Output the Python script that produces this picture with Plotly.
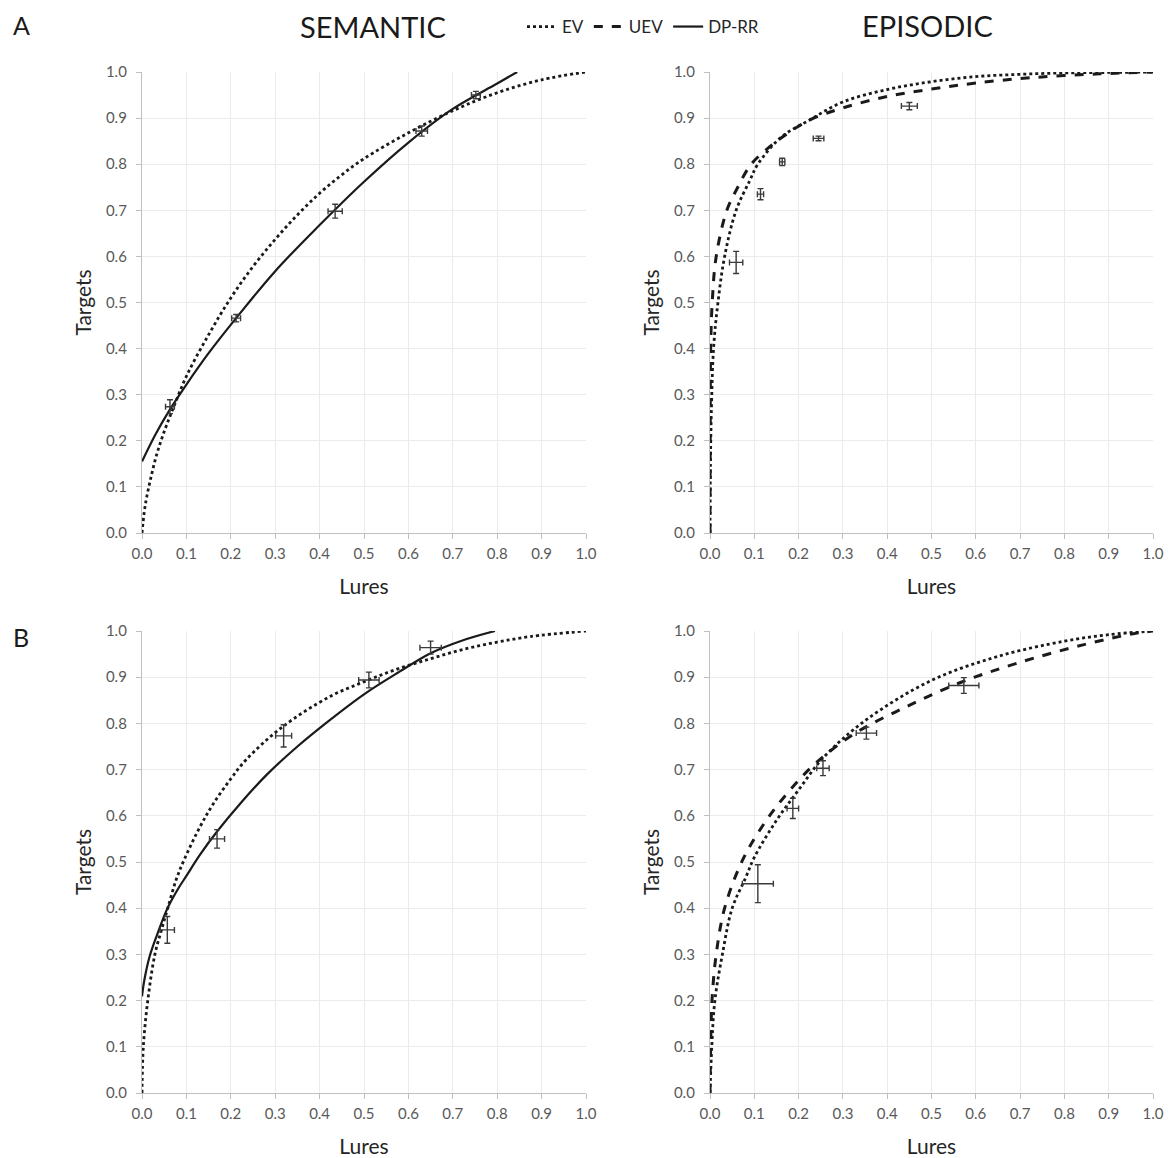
import plotly.graph_objects as go

# ---------------- data ----------------
# Panel A, SEMANTIC
a_sem_lures = [0.063, 0.212, 0.435, 0.630, 0.752]
a_sem_targets = [0.274, 0.466, 0.698, 0.872, 0.950]
a_sem_lures_err = [0.010, 0.010, 0.016, 0.013, 0.010]
a_sem_targets_err = [0.015, 0.008, 0.015, 0.011, 0.008]
a_sem_ev_x = [0, 0.005, 0.01, 0.02, 0.033, 0.05, 0.07, 0.1, 0.15, 0.2, 0.25, 0.3, 0.35, 0.4, 0.45, 0.5, 0.6, 0.7, 0.8, 0.9, 1.0]
a_sem_ev_y = [0, 0.045, 0.075, 0.12, 0.17, 0.22, 0.27, 0.34, 0.43, 0.51, 0.578, 0.637, 0.69, 0.737, 0.777, 0.812, 0.868, 0.916, 0.955, 0.983, 1.0]
a_sem_dprr_x = [0, 0.03, 0.063, 0.1, 0.15, 0.212, 0.3, 0.4, 0.5, 0.6, 0.7, 0.8, 0.845]
a_sem_dprr_y = [0.155, 0.213, 0.268, 0.322, 0.39, 0.466, 0.568, 0.668, 0.762, 0.847, 0.92, 0.975, 1.0]

# Panel A, EPISODIC
a_epi_lures = [0.059, 0.114, 0.163, 0.245, 0.450]
a_epi_targets = [0.587, 0.735, 0.805, 0.856, 0.926]
a_epi_lures_err = [0.015, 0.007, 0.006, 0.012, 0.018]
a_epi_targets_err = [0.024, 0.012, 0.008, 0.005, 0.008]
a_epi_ev_x = [0, 0.001, 0.003, 0.008, 0.018, 0.033, 0.059, 0.09, 0.108, 0.16, 0.225, 0.3, 0.4, 0.5, 0.6, 0.7, 0.8, 0.9, 1.0]
a_epi_ev_y = [0, 0.15, 0.26, 0.40, 0.50, 0.60, 0.70, 0.765, 0.80, 0.858, 0.896, 0.935, 0.962, 0.979, 0.99, 0.995, 0.998, 0.999, 1.0]
a_epi_uev_x = [0, 0.0005, 0.0015, 0.005, 0.014, 0.038, 0.06, 0.093, 0.135, 0.162, 0.225, 0.3, 0.4, 0.5, 0.6, 0.73, 0.88, 1.0]
a_epi_uev_y = [0, 0.2, 0.4, 0.5, 0.6, 0.7, 0.745, 0.80, 0.838, 0.858, 0.896, 0.922, 0.947, 0.963, 0.976, 0.988, 0.996, 1.0]

# Panel B, SEMANTIC
b_sem_lures = [0.057, 0.169, 0.319, 0.511, 0.650]
b_sem_targets = [0.353, 0.550, 0.773, 0.894, 0.964]
b_sem_lures_err = [0.016, 0.017, 0.018, 0.023, 0.024]
b_sem_targets_err = [0.029, 0.020, 0.024, 0.017, 0.014]
b_sem_ev_x = [0, 0.003, 0.013, 0.029, 0.043, 0.058, 0.077, 0.095, 0.13, 0.16, 0.2, 0.235, 0.317, 0.423, 0.5, 0.573, 0.65, 0.723, 0.8, 0.874, 1.0]
b_sem_ev_y = [0, 0.1, 0.2, 0.3, 0.35, 0.4, 0.462, 0.505, 0.575, 0.625, 0.68, 0.722, 0.793, 0.858, 0.89, 0.917, 0.94, 0.96, 0.976, 0.988, 1.0]
b_sem_dprr_x = [0, 0.005, 0.017, 0.035, 0.056, 0.08, 0.1, 0.13, 0.17, 0.22, 0.28, 0.35, 0.42, 0.5, 0.58, 0.65, 0.72, 0.795]
b_sem_dprr_y = [0.209, 0.243, 0.295, 0.345, 0.397, 0.44, 0.47, 0.515, 0.567, 0.625, 0.688, 0.75, 0.805, 0.863, 0.912, 0.952, 0.979, 1.0]

# Panel B, EPISODIC
b_epi_lures = [0.108, 0.187, 0.255, 0.353, 0.573]
b_epi_targets = [0.453, 0.616, 0.703, 0.779, 0.882]
b_epi_lures_err = [0.035, 0.013, 0.014, 0.023, 0.034]
b_epi_targets_err = [0.041, 0.022, 0.016, 0.013, 0.017]
b_epi_ev_x = [0, 0.004, 0.011, 0.028, 0.05, 0.08, 0.1, 0.15, 0.2, 0.255, 0.353, 0.5, 0.65, 0.8, 0.9, 1.0]
b_epi_ev_y = [0, 0.1, 0.2, 0.3, 0.4, 0.465, 0.51, 0.59, 0.656, 0.725, 0.808, 0.893, 0.945, 0.978, 0.992, 1.0]
b_epi_uev_x = [0, 0.0015, 0.0045, 0.014, 0.033, 0.074, 0.127, 0.18, 0.24, 0.33, 0.443, 0.564, 0.692, 0.842, 0.955, 1.0]
b_epi_uev_y = [0, 0.1, 0.2, 0.3, 0.4, 0.505, 0.59, 0.655, 0.715, 0.78, 0.836, 0.888, 0.93, 0.97, 0.994, 1.0]

tick_vals = [0.0, 0.1, 0.2, 0.3, 0.4, 0.5, 0.6, 0.7, 0.8, 0.9, 1.0]
tick_text = ["0.0", "0.1", "0.2", "0.3", "0.4", "0.5", "0.6", "0.7", "0.8", "0.9", "1.0"]

FONT = "Lato, 'Open Sans', sans-serif"
W, H = 1173, 1158

fig = go.Figure()

panels = [
    ("x", "y", (a_sem_lures, a_sem_targets, a_sem_lures_err, a_sem_targets_err),
     [("EV", a_sem_ev_x, a_sem_ev_y), ("DP-RR", a_sem_dprr_x, a_sem_dprr_y)]),
    ("x2", "y2", (a_epi_lures, a_epi_targets, a_epi_lures_err, a_epi_targets_err),
     [("EV", a_epi_ev_x, a_epi_ev_y), ("UEV", a_epi_uev_x, a_epi_uev_y)]),
    ("x3", "y3", (b_sem_lures, b_sem_targets, b_sem_lures_err, b_sem_targets_err),
     [("EV", b_sem_ev_x, b_sem_ev_y), ("DP-RR", b_sem_dprr_x, b_sem_dprr_y)]),
    ("x4", "y4", (b_epi_lures, b_epi_targets, b_epi_lures_err, b_epi_targets_err),
     [("EV", b_epi_ev_x, b_epi_ev_y), ("UEV", b_epi_uev_x, b_epi_uev_y)]),
]

line_styles = {
    "EV": dict(color="#1a1a1a", width=2.8, dash="dot"),
    "UEV": dict(color="#1a1a1a", width=3.0, dash="dash"),
    "DP-RR": dict(color="#1a1a1a", width=2.2, dash="solid"),
}
legend_rank = {"EV": 1, "UEV": 2, "DP-RR": 3}
shown = set()

for xa, ya, pts, curves in panels:
    for name, cx, cy in curves:
        fig.add_trace(go.Scatter(
            x=cx, y=cy, mode="lines", name=name,
            line=dict(shape="spline", smoothing=1.0, **line_styles[name]),
            xaxis=xa, yaxis=ya,
            showlegend=name not in shown, legendrank=legend_rank[name],
            hoverinfo="skip"))
        shown.add(name)
    lx, ly, ex, ey = pts
    fig.add_trace(go.Scatter(
        x=lx, y=ly, mode="markers", showlegend=False,
        marker=dict(size=2, color="rgba(0,0,0,0)"),
        error_x=dict(type="data", array=ex, visible=True, color="#3a3a3a", thickness=1.4, width=3),
        error_y=dict(type="data", array=ey, visible=True, color="#3a3a3a", thickness=1.4, width=3),
        xaxis=xa, yaxis=ya))

xdom_left = [142 / W, 586 / W]
xdom_right = [710 / W, 1153 / W]
ydom_top = [1 - 533 / H, 1 - 72 / H]
ydom_bot = [1 - 1093 / H, 1 - 631 / H]

common = dict(range=[0, 1], tickvals=tick_vals, ticktext=tick_text, automargin=False,
              showgrid=True, gridcolor="#ebebeb", gridwidth=1, zeroline=False,
              showline=True, linecolor="#bfbfbf", linewidth=1.3,
              ticks="outside", ticklen=5, tickcolor="#bfbfbf",
              tickfont=dict(family=FONT, size=15, color="#595959"))

def xaxis(dom, anchor):
    return dict(domain=dom, anchor=anchor, ticklabelstandoff=2,
                title=dict(text="Lures", font=dict(family=FONT, size=21, color="#262626"), standoff=18),
                **common)

def yaxis(dom, anchor):
    return dict(domain=dom, anchor=anchor, ticklabelstandoff=6,
                title=dict(text="Targets", font=dict(family=FONT, size=21, color="#262626"), standoff=8),
                **common)

fig.update_layout(
    width=W, height=H,
    margin=dict(l=0, r=0, t=0, b=0),
    paper_bgcolor="white", plot_bgcolor="white",
    font=dict(family=FONT, color="#262626"),
    xaxis=xaxis(xdom_left, "y"), yaxis=yaxis(ydom_top, "x"),
    xaxis2=xaxis(xdom_right, "y2"), yaxis2=yaxis(ydom_top, "x2"),
    xaxis3=xaxis(xdom_left, "y3"), yaxis3=yaxis(ydom_bot, "x3"),
    xaxis4=xaxis(xdom_right, "y4"), yaxis4=yaxis(ydom_bot, "x4"),
    legend=dict(orientation="h", x=522 / W, y=1 - 27 / H, xanchor="left", yanchor="middle",
                font=dict(family=FONT, size=17, color="#262626"), bgcolor="rgba(0,0,0,0)",
                itemwidth=30, tracegroupgap=0),
    showlegend=True,
)

annots = [
    dict(text="SEMANTIC", x=373 / W, y=1 - 27 / H, size=29),
    dict(text="EPISODIC", x=927 / W, y=1 - 25 / H, size=29),
    dict(text="A", x=21 / W, y=1 - 25 / H, size=25),
    dict(text="B", x=21 / W, y=1 - 637 / H, size=25),
]
for a in annots:
    fig.add_annotation(text=a["text"], x=a["x"], y=a["y"], xref="paper", yref="paper",
                       xanchor="center", yanchor="middle", showarrow=False,
                       font=dict(family=FONT, size=a["size"], color="#1a1a1a"))

fig.write_html("out.html")
